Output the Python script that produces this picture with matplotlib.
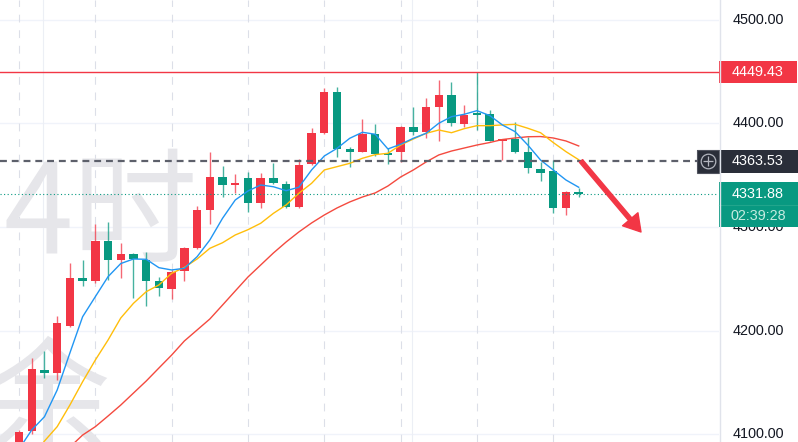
import numpy as np
import matplotlib
matplotlib.use('Agg')
import matplotlib.pyplot as plt
from matplotlib.patches import Rectangle, FancyArrowPatch
from matplotlib.lines import Line2D

plt.rcParams['font.family'] = ['Liberation Sans', 'DejaVu Sans']

# 4h candles, oldest first
opens = [4080.0, 4103.0, 4161.8, 4158.6, 4204.6, 4250.4, 4247.8, 4286.5, 4268.1, 4273.6,
         4268.1, 4247.8, 4240.1, 4257.5, 4279.4, 4316.4, 4348.6, 4341.0, 4347.6, 4323.5,
         4347.6, 4341.3, 4319.0, 4360.9, 4390.5, 4430.1, 4375.4, 4372.8, 4389.6, 4370.5,
         4372.8, 4396.9, 4392.0, 4416.2, 4427.5, 4399.2, 4409.9, 4408.9, 4383.5, 4384.7,
         4372.8, 4356.0, 4354.1, 4318.6, 4333.0]
highs = [4103.5, 4173.4, 4180.2, 4214.0, 4265.5, 4268.0, 4302.9, 4304.5, 4284.3, 4274.6,
         4275.6, 4252.0, 4258.5, 4281.0, 4320.6, 4372.2, 4358.9, 4350.9, 4353.4, 4351.9,
         4362.1, 4344.4, 4365.4, 4395.4, 4434.0, 4435.6, 4377.6, 4404.0, 4399.2, 4376.0,
         4397.5, 4416.2, 4424.3, 4442.0, 4439.8, 4417.9, 4449.43, 4413.0, 4385.0, 4401.7,
         4386.7, 4363.1, 4364.7, 4334.5, 4337.4]
lows = [4078.0, 4100.0, 4154.1, 4152.2, 4203.5, 4243.0, 4246.2, 4248.8, 4250.4, 4231.7,
        4224.0, 4233.6, 4230.4, 4248.1, 4278.5, 4302.6, 4328.7, 4332.6, 4314.8, 4318.7,
        4341.3, 4318.0, 4318.0, 4360.0, 4390.0, 4367.9, 4358.3, 4372.0, 4369.0, 4360.9,
        4363.0, 4388.9, 4385.7, 4383.0, 4397.6, 4396.9, 4393.7, 4383.0, 4364.7, 4371.8,
        4351.9, 4344.4, 4313.2, 4311.6, 4328.7]
closes = [4102.0, 4162.5, 4159.2, 4206.9, 4251.0, 4247.5, 4286.8, 4268.1, 4273.9, 4268.8,
          4248.1, 4241.4, 4256.8, 4279.4, 4316.4, 4348.6, 4340.6, 4342.0, 4323.5, 4347.6,
          4342.2, 4319.6, 4359.9, 4390.5, 4430.1, 4375.4, 4372.8, 4389.6, 4370.2, 4369.5,
          4396.9, 4392.0, 4415.7, 4427.5, 4400.2, 4408.2, 4408.2, 4383.1, 4384.5, 4372.8,
          4356.7, 4351.9, 4318.6, 4334.1, 4331.88]

# moving averages as drawn on the chart
ma5 = [4085.5, 4103.9, 4116.7, 4142.5, 4178.3, 4213.3, 4232.7, 4252.0, 4264.7, 4269.1,
       4268.8, 4260.7, 4258.5, 4260.1, 4271.3, 4287.4, 4308.4, 4326.1, 4334.8, 4340.6,
       4338.9, 4335.1, 4338.4, 4355.1, 4368.6, 4376.0, 4385.7, 4391.5, 4389.6, 4375.4,
       4379.9, 4385.7, 4390.5, 4400.2, 4406.6, 4408.9, 4412.4, 4407.7, 4398.6, 4392.1,
       4379.2, 4364.7, 4355.1, 4345.4, 4338.4]
ma10 = [4060.4, 4076.8, 4093.2, 4107.1, 4128.0, 4150.5, 4171.5, 4190.8, 4212.1, 4226.3,
        4237.5, 4244.0, 4255.3, 4260.9, 4269.1, 4279.4, 4284.8, 4292.3, 4297.4, 4303.6,
        4313.2, 4321.3, 4332.6, 4342.2, 4355.1, 4358.3, 4361.5, 4366.4, 4369.9, 4371.2,
        4379.2, 4385.0, 4390.5, 4393.7, 4391.1, 4395.0, 4397.9, 4397.9, 4398.6, 4399.2,
        4395.4, 4391.1, 4381.6, 4372.8, 4365.0]
ma20 = [np.nan, np.nan, np.nan, 4074.9, 4087.4, 4099.0, 4107.1, 4117.4, 4128.0, 4139.6,
        4151.2, 4163.8, 4176.3, 4189.9, 4200.5, 4211.1, 4224.6, 4238.2, 4251.7, 4263.3,
        4274.9, 4285.5, 4295.2, 4303.9, 4311.6, 4318.4, 4324.2, 4329.0, 4332.9, 4339.6,
        4348.3, 4355.1, 4362.8, 4369.6, 4373.4, 4376.3, 4379.2, 4381.6, 4384.5, 4386.0,
        4387.2, 4387.4, 4386.0, 4383.1, 4378.3]

price_ticks = [4500, 4400, 4300, 4200, 4100]
high_line = 4449.43
cross_line = 4363.53
last_price = 4331.88
countdown = '02:39:28'
session_breaks = [0, 6, 12, 18, 24, 30, 36, 42]
time_grid = [2, 31]

RED = '#F23645'
GREEN = '#089981'

W, H = 798, 442
PLOT_W = 719
fig = plt.figure(figsize=(W / 100, H / 100), dpi=100)
ax = fig.add_axes([0, 0, PLOT_W / W, 1])
xmin, xmax = -1.494, 55.03
ymin, ymax = 4092.3, 4519.3
ax.set_xlim(xmin, xmax)
ax.set_ylim(ymin, ymax)
ax.axis('off')
ppx = (ymax - ymin) / H          # price per pixel
xpx = (xmax - xmin) / PLOT_W     # candle index per pixel
ytr = ax.get_yaxis_transform()

# grid
for p in price_ticks:
    ax.axhline(p, color='#f0f3fa', lw=1, zorder=0)
for t in time_grid:
    ax.axvline(t - 0.1, color='#eceff5', lw=0.8, zorder=0)
for t in session_breaks:
    ax.axvline(t, color='#dcdfe8', lw=0.8, ls=(0, (7, 7)), zorder=0)

# watermark
wm = dict(transform=ax.transAxes, fontsize=90, color='#e6e6ea',
          family=['Noto Sans CJK SC', 'DejaVu Sans'], zorder=0.5)
ax.text(3 / PLOT_W, 1 - 253 / H, '4时', ha='left', va='baseline', **wm)
ax.text(47 / PLOT_W, 0.0, '余', ha='center', va='baseline', **wm)

# candles
o = np.array(opens)
hi = np.array(highs)
lo = np.array(lows)
c = np.array(closes)
idx = np.arange(len(o))
cols = np.where(c >= o, RED, GREEN)
ax.vlines(idx, lo, hi, colors=cols, lw=1, alpha=0.75, zorder=3)
body_bot = np.minimum(o, c)
body_h = np.maximum(np.abs(c - o), 1.6 * ppx)
ax.bar(idx, body_h, bottom=body_bot, width=0.66, color=cols, lw=0, zorder=4)

# moving averages
ax.plot(idx, ma20, color='#F44A3F', lw=1.0, zorder=5)
ax.plot(idx, ma10, color='#FFBE0B', lw=1.0, zorder=5)
ax.plot(idx, ma5, color='#2196F3', lw=1.0, zorder=5)

# price lines
ax.axhline(high_line, color=RED, lw=1, zorder=6)
ax.hlines(cross_line, xmin, xmin + 697 * xpx, colors='#5d606b', lw=1.6,
          linestyles=[(0, (3.1, 2.2))], zorder=6)
ax.hlines(last_price, xmin, xmin + 717 * xpx, colors=GREEN, lw=0.8,
          linestyles=[(0, (1, 2.2))], zorder=6)

# trend arrow
arrow = FancyArrowPatch((581 / PLOT_W, 1 - 161 / H), (641 / PLOT_W, 1 - 232 / H),
                        transform=ax.transAxes, arrowstyle='simple,head_length=1.2,head_width=1.45,tail_width=0.3',
                        mutation_scale=10, color=RED, shrinkA=0, shrinkB=0, zorder=9, clip_on=False)
ax.add_patch(arrow)

# right price scale
fig.add_artist(Line2D([(PLOT_W + 0.5) / W] * 2, [0, 1], color='#e0e3eb', lw=1))
lab_x = 758 / PLOT_W
fs = 10.4
for p in price_ticks:
    ax.text(lab_x, p, f'{p:.2f}', transform=ytr, ha='center', va='center',
            color='#131722', fontsize=fs, clip_on=False, zorder=8)

# high label
ax.add_patch(Rectangle((1.0, high_line - 11 * ppx), 78 / PLOT_W, 22 * ppx, transform=ytr,
                       color=RED, lw=0, clip_on=False, zorder=10))
ax.text(lab_x, high_line, f'{high_line:.2f}', transform=ytr, ha='center', va='center',
        color='white', fontsize=fs, clip_on=False, zorder=11)

# crosshair label
ax.add_patch(Rectangle((697 / PLOT_W, cross_line - 11.5 * ppx), 101 / PLOT_W, 23 * ppx, transform=ytr,
                       color='#2a2e39', lw=0, clip_on=False, zorder=10))
ax.add_patch(Rectangle((697 / PLOT_W, cross_line - 11.5 * ppx), 22 / PLOT_W, 23 * ppx, transform=ytr,
                       fill=False, edgecolor='#50535e', lw=0.8, clip_on=False, zorder=11))
ax.plot([708 / PLOT_W], [cross_line], transform=ytr, marker='o', ms=10.5, mfc='none',
        mec='#b2b5be', mew=0.9, clip_on=False, zorder=12)
ax.plot([708 / PLOT_W], [cross_line], transform=ytr, marker='+', ms=7.5,
        mec='#b2b5be', mew=0.9, clip_on=False, zorder=12)
ax.text(lab_x, cross_line, f'{cross_line:.2f}', transform=ytr, ha='center', va='center',
        color='white', fontsize=fs, clip_on=False, zorder=12)

# last price label with countdown
ax.add_patch(Rectangle((1.0, last_price - 33 * ppx), 79 / PLOT_W, 45 * ppx, transform=ytr,
                       color=GREEN, lw=0, clip_on=False, zorder=10))
ax.plot([1.0, 1.11], [last_price - 10.5 * ppx] * 2, transform=ytr, color='#22a58c',
        lw=0.8, clip_on=False, zorder=11)
ax.text(lab_x, last_price + 0.5 * ppx, f'{last_price:.2f}', transform=ytr, ha='center', va='center',
        color='white', fontsize=fs, clip_on=False, zorder=11)
ax.text(lab_x, last_price - 21.5 * ppx, countdown, transform=ytr, ha='center', va='center',
        color='#c4ebe0', fontsize=fs, clip_on=False, zorder=11)

fig.savefig('out.png', dpi=100)
